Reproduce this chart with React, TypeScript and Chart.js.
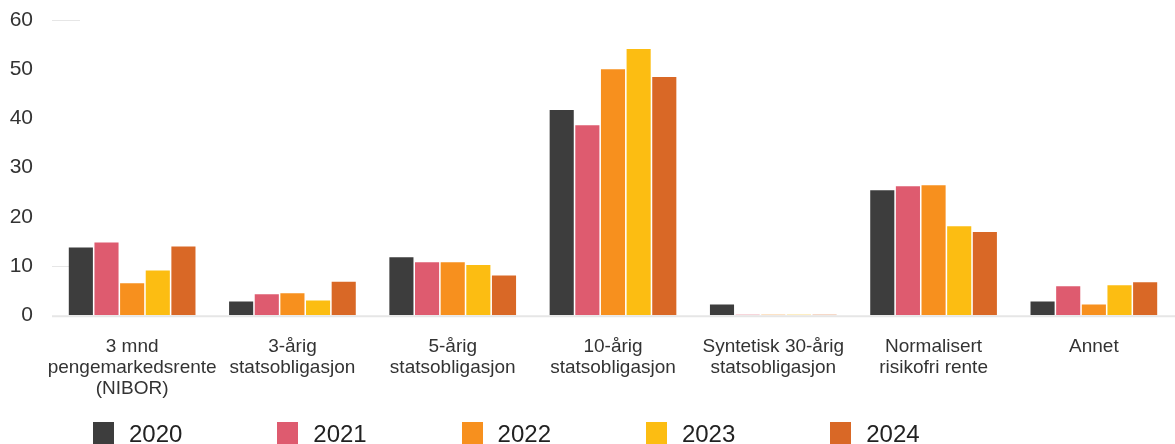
import React, { useEffect, useRef } from "react";
import { Chart, registerables } from "chart.js";

Chart.register(...registerables);

const categories: string[][] = [
  ["3 mnd", "pengemarkedsrente", "(NIBOR)"],
  ["3-årig", "statsobligasjon"],
  ["5-årig", "statsobligasjon"],
  ["10-årig", "statsobligasjon"],
  ["Syntetisk 30-årig", "statsobligasjon"],
  ["Normalisert", "risikofri rente"],
  ["Annet"],
];

const seriesNames = ["2020", "2021", "2022", "2023", "2024"];
const values2020 = [13.8, 2.8, 11.8, 41.7, 2.2, 25.4, 2.8];
const values2021 = [14.8, 4.3, 10.8, 38.6, 0.1, 26.2, 5.9];
const values2022 = [6.5, 4.5, 10.8, 50.0, 0.1, 26.4, 2.2];
const values2023 = [9.1, 3.0, 10.2, 54.1, 0.1, 18.1, 6.1];
const values2024 = [14.0, 6.8, 8.1, 48.4, 0.1, 16.9, 6.7];
const seriesValues = [values2020, values2021, values2022, values2023, values2024];
const seriesColors = ["#3d3d3d", "#de5b6f", "#f7901e", "#fcbd12", "#d96826"];

const yMin = 0;
const yMax = 60;
const yStep = 10;
const shortGridValues = [60, 10];

const gridPlugin = {
  id: "customGrid",
  beforeDatasetsDraw(chart: any) {
    const { ctx, chartArea, scales } = chart;
    const y = scales.y;
    ctx.save();
    ctx.strokeStyle = "#e6e6e6";
    ctx.lineWidth = 1;
    shortGridValues.forEach((v) => {
      const py = Math.round(y.getPixelForValue(v)) + 0.5;
      ctx.beginPath();
      ctx.moveTo(chartArea.left, py);
      ctx.lineTo(chartArea.left + 28, py);
      ctx.stroke();
    });
    ctx.restore();
  },
  afterDatasetsDraw(chart: any) {
    const { ctx, chartArea, scales } = chart;
    const y = scales.y;
    const py = y.getPixelForValue(0) + 1;
    ctx.save();
    ctx.strokeStyle = "#e6e6e6";
    ctx.lineWidth = 2;
    ctx.beginPath();
    ctx.moveTo(chartArea.left, py);
    ctx.lineTo(chartArea.right + 1, py);
    ctx.stroke();
    ctx.restore();
  },
};

export default function App() {
  const canvasRef = useRef<HTMLCanvasElement | null>(null);

  useEffect(() => {
    document.body.style.margin = "0";
    const canvas = canvasRef.current;
    if (!canvas) return;
    const chart = new Chart(canvas, {
      type: "bar",
      data: {
        labels: categories,
        datasets: seriesNames.map((name, i) => ({
          label: name,
          data: seriesValues[i],
          backgroundColor: seriesColors[i],
          borderWidth: 0,
          categoryPercentage: 0.8,
          barPercentage: 0.94,
        })),
      },
      options: {
        animation: false,
        responsive: false,
        maintainAspectRatio: false,
        layout: { padding: { top: 20, right: 1, bottom: 24, left: 0 } },
        plugins: {
          legend: { display: false },
          tooltip: { enabled: false },
        },
        scales: {
          x: {
            grid: { display: false, drawTicks: false },
            border: { display: false },
            ticks: {
              color: "#333",
              padding: 21,
              maxRotation: 0,
              autoSkip: false,
              font: { family: "'Liberation Sans', Arial, sans-serif", size: 19, lineHeight: 1.1 },
            },
          },
          y: {
            min: yMin,
            max: yMax,
            grid: { display: false, drawTicks: false },
            border: { display: false },
            afterFit(scale: any) {
              scale.width = 52;
              scale.paddingTop = 0;
              scale.paddingBottom = 0;
            },
            ticks: {
              stepSize: yStep,
              color: "#333",
              padding: 19,
              font: { family: "'Liberation Sans', Arial, sans-serif", size: 21, lineHeight: 1 },
            },
          },
        },
      },
      plugins: [gridPlugin],
    });
    return () => chart.destroy();
  }, []);

  return (
    <div style={{ position: "relative", width: 1175, height: 444, overflow: "hidden", fontFamily: "'Liberation Sans', Arial, sans-serif" }}>
      <canvas ref={canvasRef} width={1175} height={444} style={{ display: "block" }} />
      <div style={{ position: "absolute", left: 93, top: 422, display: "flex" }}>
        {seriesNames.map((name, i) => (
          <div key={name} style={{ width: 184.3, display: "flex", alignItems: "flex-start" }}>
            <span style={{ display: "inline-block", width: 21, height: 24, background: seriesColors[i] }} />
            <span style={{ marginLeft: 15, fontSize: 24, lineHeight: "24px", color: "#222" }}>{name}</span>
          </div>
        ))}
      </div>
    </div>
  );
}
